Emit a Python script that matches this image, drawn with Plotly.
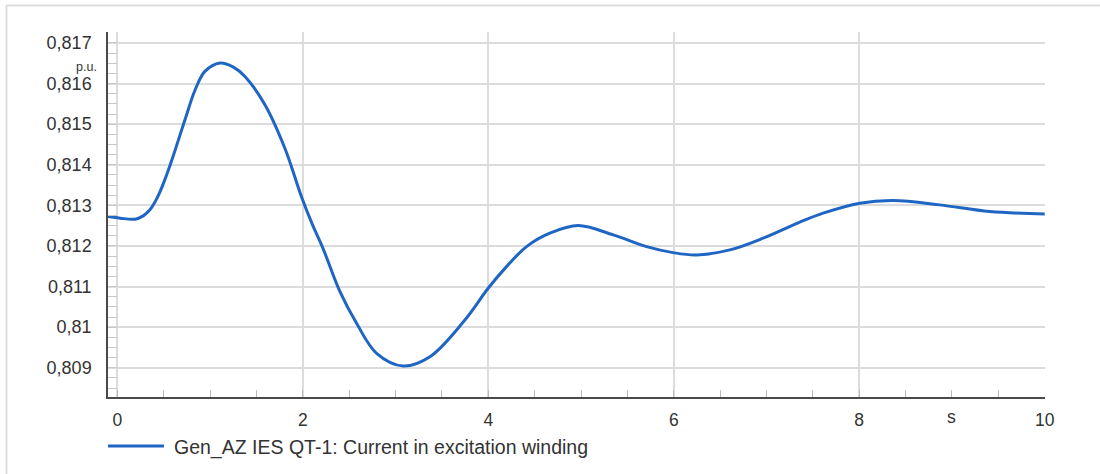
import plotly.graph_objects as go

# Time (s) and excitation-winding current (p.u.)
t = [-0.1, 0.03, 0.19, 0.28, 0.352, 0.406, 0.458, 0.514, 0.586, 0.73, 0.84,
     0.945, 1.107, 1.247, 1.377, 1.592, 1.808, 1.988, 2.1, 2.22, 2.40, 2.58,
     2.796, 3.083, 3.371, 3.748, 3.999, 4.197, 4.413, 4.664, 4.97, 5.347,
     5.707, 5.993, 6.245, 6.605, 6.964, 7.359, 7.61, 8.006, 8.365, 8.868,
     9.407, 10.0]
current = [0.812724, 0.812684, 0.81266, 0.812741, 0.81289, 0.81308, 0.81332,
           0.81364, 0.81410, 0.815109, 0.815848, 0.8163, 0.816507, 0.816412,
           0.816176, 0.815478, 0.81440, 0.81320, 0.81255, 0.81193, 0.81088,
           0.810095, 0.809355, 0.809042, 0.809271, 0.810176, 0.810958,
           0.811491, 0.811984, 0.812314, 0.812502, 0.812272, 0.811984,
           0.811836, 0.811779, 0.811903, 0.812191, 0.812586, 0.812808,
           0.813054, 0.813118, 0.813012, 0.812847, 0.81279]

series_name = "Gen_AZ IES QT-1: Current in excitation winding"
y_unit = "p.u."
x_unit = "s"

BLUE = "#1f65c4"
GRID = "#dcdcdc"
AXIS = "#4a4a4a"
TXT = "#333333"
FONT = "Liberation Sans, Arial, sans-serif"

W, H = 1100, 474
L, R, T, B = 108, 55, 32, 77
pw, ph = W - L - R, H - T - B


def px(x):
    return (x - L) / pw


def py(y):
    return (H - B - y) / ph


fig = go.Figure()
fig.add_trace(go.Scatter(
    x=t, y=current, mode="lines", name=series_name,
    line=dict(color=BLUE, width=3, shape="spline", smoothing=1.0),
    showlegend=False,
))

fig.update_layout(
    width=W, height=H,
    margin=dict(l=L, r=R, t=T, b=B, pad=0),
    paper_bgcolor="white", plot_bgcolor="white",
    separators=",.",
    font=dict(family=FONT, color=TXT, size=17),
    xaxis=dict(
        range=[-0.1, 10.003], tick0=0, dtick=2,
        showgrid=True, gridcolor=GRID, gridwidth=1.5,
        zeroline=False,
        showline=True, linecolor=AXIS, linewidth=1.5,
        ticks="inside", ticklen=7, tickcolor="#bbbbbb",
        minor=dict(dtick=0.5, tick0=0, ticks="inside", ticklen=7,
                   tickcolor="#bbbbbb", showgrid=False),
        tickfont=dict(size=17.5, color=TXT, family=FONT),
        ticklabelstandoff=6,
    ),
    yaxis=dict(
        range=[0.80828, 0.81727], tick0=0.809, dtick=0.001,
        showgrid=True, gridcolor=GRID, gridwidth=1.5,
        zeroline=False,
        showline=True, linecolor=AXIS, linewidth=1.5,
        ticks="inside", ticklen=9, tickcolor="#c8c8c8",
        minor=dict(dtick=0.00025, tick0=0.809, ticks="inside", ticklen=9,
                   tickcolor="#c8c8c8", showgrid=False),
        tickfont=dict(size=18, color=TXT, family=FONT),
        ticklabelstandoff=11,
    ),
    annotations=[
        dict(text=y_unit, xref="paper", yref="paper", x=px(99), y=py(66.5),
             xanchor="right", yanchor="middle", showarrow=False,
             font=dict(size=12.5, color=TXT, family=FONT)),
        dict(text=x_unit, xref="paper", yref="paper", x=px(951.5), y=py(417),
             xanchor="center", yanchor="middle", showarrow=False,
             font=dict(size=17.5, color=TXT, family=FONT)),
        dict(text=series_name, xref="paper", yref="paper", x=px(172), y=py(447),
             xanchor="left", yanchor="middle", showarrow=False,
             font=dict(size=19.5, color=TXT, family=FONT)),
    ],
    shapes=[
        dict(type="line", xref="paper", yref="paper",
             x0=px(108), x1=px(164), y0=py(446), y1=py(446),
             line=dict(color=BLUE, width=3)),
        dict(type="line", xref="paper", yref="paper",
             x0=px(6), x1=px(1100), y0=py(5.5), y1=py(5.5),
             line=dict(color="#dddddd", width=2)),
        dict(type="line", xref="paper", yref="paper",
             x0=px(6.5), x1=px(6.5), y0=py(5.5), y1=py(474),
             line=dict(color="#dddddd", width=2)),
    ],
)

fig.write_html("out.html",
               config={"displayModeBar": False},
               post_script="document.body.style.margin='0px';")
